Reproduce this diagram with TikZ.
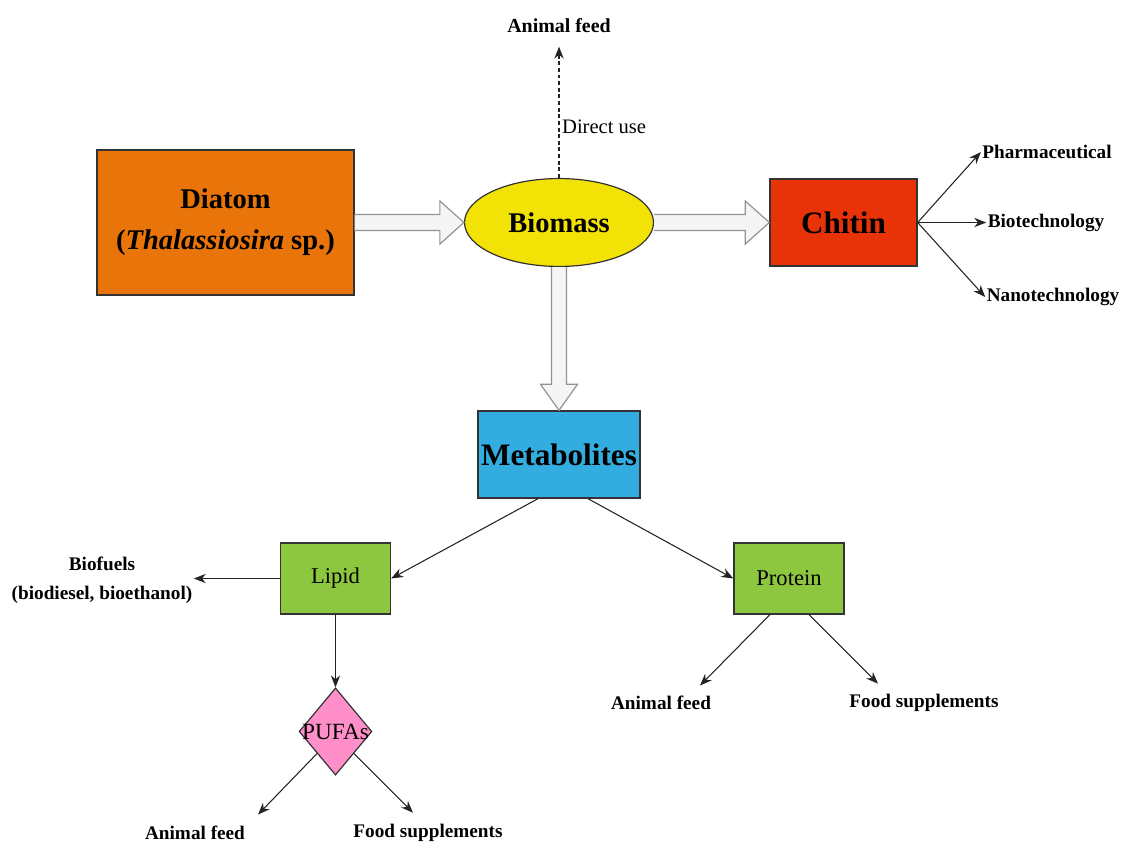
\documentclass[tikz,border=0pt]{standalone}
\usepackage{fontspec}
\setmainfont{Liberation Serif}
\usetikzlibrary{shapes.geometric,arrows.meta,calc}
\definecolor{diatomorange}{RGB}{232,116,10}
\definecolor{biomassyellow}{RGB}{242,226,5}
\definecolor{chitinred}{RGB}{232,50,8}
\definecolor{metabblue}{RGB}{51,173,224}
\definecolor{leafgreen}{RGB}{141,198,63}
\definecolor{pufapink}{RGB}{255,143,200}
\definecolor{edgegray}{RGB}{51,51,51}
\definecolor{linegray}{RGB}{35,35,35}
\newcommand{\hblock}[2]{%
  \draw[blockarrow] ($(#1.east)+(0,-8)$) -- ($(#2.west)+(-24,-8)$) -- ($(#2.west)+(-24,-21.5)$)
    -- (#2.west) -- ($(#2.west)+(-24,21.5)$) -- ($(#2.west)+(-24,8)$) -- ($(#1.east)+(0,8)$);}
\newcommand{\vblock}[2]{%
  \draw[blockarrow] ($(#1.south)+(-7.5,0)$) -- ($(#2.north)+(-7.5,-26)$) -- ($(#2.north)+(-18.5,-26)$)
    -- (#2.north) -- ($(#2.north)+(18.5,-26)$) -- ($(#2.north)+(7.5,-26)$) -- ($(#1.south)+(7.5,0)$);}

\begin{document}
\begin{tikzpicture}[x=0.0265cm, y=-0.0265cm,
  box/.style={draw=edgegray, line width=0.9pt, inner sep=0pt},
  lbl/.style={font=\fontsize{14.5}{22}\selectfont\bfseries, inner sep=1pt},
  link/.style={draw=linegray, line width=0.8pt, -{Stealth[length=9pt,width=7pt]}},
  blockarrow/.style={draw=gray!85, fill=gray!8, line width=0.9pt}]
  \useasboundingbox (0,0) rectangle (1128,845);

  \node[box, fill=diatomorange, minimum width=6.81cm, minimum height=3.84cm, align=center,
        font=\fontsize{21.5}{31}\selectfont\bfseries] (diatom) at (225.5,222.5)
        {Diatom\\(\textit{Thalassiosira} sp.)};
  \node[box, ellipse, fill=biomassyellow, minimum width=5.01cm, minimum height=2.33cm,
        font=\fontsize{21.5}{26}\selectfont\bfseries] (biomass) at (559,222.5) {Biomass};
  \node[box, fill=chitinred, minimum width=3.9cm, minimum height=2.31cm,
        font=\fontsize{23.5}{28}\selectfont\bfseries] (chitin) at (843.5,222.5) {Chitin};
  \node[box, fill=metabblue, minimum width=4.29cm, minimum height=2.31cm,
        font=\fontsize{23.5}{28}\selectfont\bfseries] (metab) at (559,454.5) {Metabolites};
  \node[box, fill=leafgreen, minimum width=2.92cm, minimum height=1.88cm,
        font=\fontsize{17}{20}\selectfont] (lipid) at (335.5,578.5) {Lipid};
  \node[box, fill=leafgreen, minimum width=2.92cm, minimum height=1.88cm,
        font=\fontsize{17}{20}\selectfont] (protein) at (789,578.5) {Protein};
  \node[box, diamond, fill=pufapink, minimum width=1.93cm, minimum height=2.31cm,
        font=\fontsize{17.5}{20}\selectfont] (pufas) at (335.5,731.5) {\makebox[0pt]{PUFAs}};

  \node[lbl, font=\fontsize{15}{18}\selectfont\bfseries] (topfeed) at (559,26) {Animal feed};
  \node[lbl] (pharm) at (1047,152) {Pharmaceutical};
  \node[lbl] (biotech) at (1046,222.5) {Biotechnology};
  \node[lbl] (nanotech) at (1053,297) {Nanotechnology};
  \node[lbl, align=center] (biofuels) at (102,580) {Biofuels\\(biodiesel, bioethanol)};
  \node[lbl] (pufeed) at (195,833) {Animal feed};
  \node[lbl] (pufood) at (428,833) {Food supplements};
  \node[lbl] (prfeed) at (661,703) {Animal feed};
  \node[lbl] (prfood) at (924,703) {Food supplements};

  \hblock{diatom}{biomass}
  \hblock{biomass}{chitin}
  \vblock{biomass}{metab}

  \draw[link, dash pattern=on 3pt off 2pt] (biomass.north) --
    node[pos=0.39, anchor=west, inner sep=2pt, font=\fontsize{15.5}{18}\selectfont] (direct) {Direct use}
    ($(topfeed.south)+(0,12)$);
  \draw[link] (chitin.east) -- (pharm.west);
  \draw[link] (chitin.east) -- (biotech.west);
  \draw[link] (chitin.east) -- (nanotech.west);
  \draw[link] ($(metab.south)+(-21,0)$) -- (lipid.east);
  \draw[link] ($(metab.south)+(29,0)$) -- (protein.west);
  \draw[link] (lipid.west) -- (lipid.west -| biofuels.east);
  \draw[link] (lipid.south) -- (pufas.north);
  \draw[link] (pufas.south west) -- ($(pufeed.north east)+(11.5,-10)$);
  \draw[link] (pufas.south east) -- ($(pufood.north)+(-15,-10)$);
  \draw[link] ($(protein.south)+(-19,0)$) -- ($(prfeed.north)+(39,-9)$);
  \draw[link] ($(protein.south)+(20,0)$) -- ($(prfood.north)+(-46,-9)$);
\end{tikzpicture}
\end{document}
